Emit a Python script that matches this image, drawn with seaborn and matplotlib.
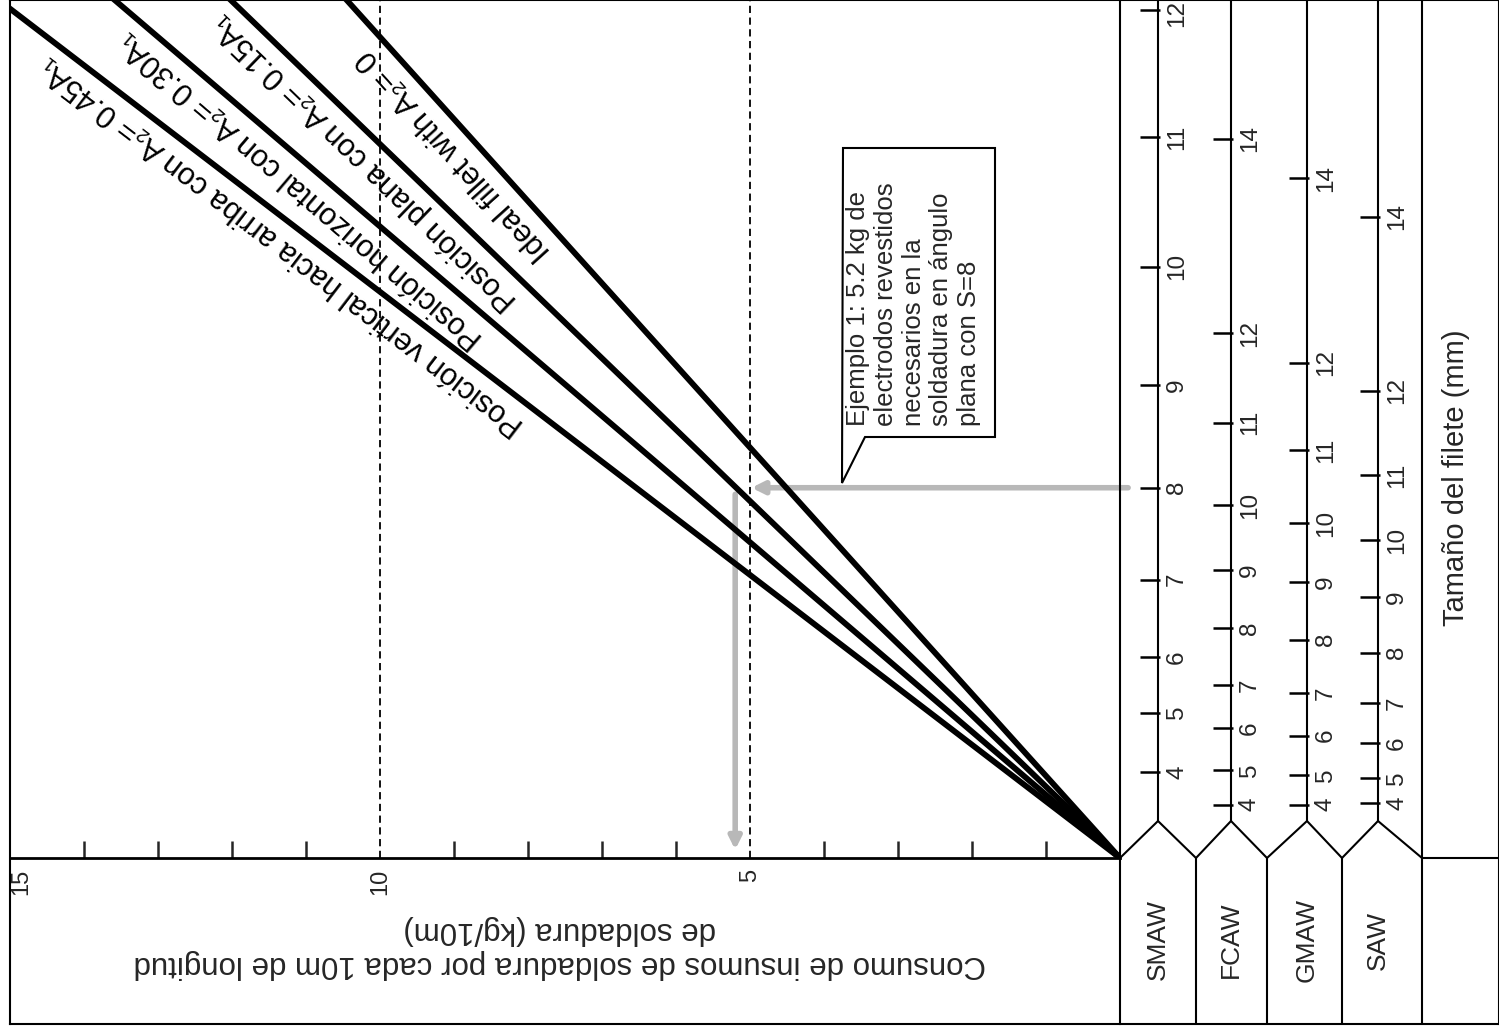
import numpy as np
import pandas as pd
import matplotlib.pyplot as plt
from matplotlib.patches import Polygon
import seaborn as sns

# lines of the nomogram: A2 = k * A1
line_factors = [0.0, 0.15, 0.30, 0.45]
line_labels = [
    "Ideal fillet with A₂= 0",
    "Posición plana con A₂= 0.15A₁",
    "Posición horizontal con A₂= 0.30A₁",
    "Posición vertical hacia arriba con A₂= 0.45A₁",
]
label_at = [8.76, 9.99, 10.86, 11.13]  # consumption where each label is centred

# bottom scale (kg/10m)
major_ticks = [15, 10, 5]
minor_ticks = [1, 2, 3, 4, 6, 7, 8, 9, 11, 12, 13, 14]
dashed_at = [10, 5]

# fillet-size scales, position = ideal consumption (kg/10m)
processes = ["SMAW", "FCAW", "GMAW", "SAW"]
smaw_sizes = [4, 5, 6, 7, 8, 9, 10, 11, 12]
smaw_pos = [1.05, 1.77, 2.45, 3.39, 4.51, 5.76, 7.20, 8.78, 10.33]
fcaw_sizes = [4, 5, 6, 7, 8, 9, 10, 11, 12, 14]
fcaw_pos = [0.65, 1.07, 1.58, 2.11, 2.80, 3.51, 4.30, 5.30, 6.39, 8.76]
gmaw_sizes = [4, 5, 6, 7, 8, 9, 10, 11, 12, 14]
gmaw_pos = [0.65, 1.01, 1.49, 2.01, 2.66, 3.36, 4.08, 4.97, 6.03, 8.28]
saw_sizes = [4, 5, 6, 7, 8, 9, 10, 11, 12, 14]
saw_pos = [0.67, 0.97, 1.40, 1.89, 2.50, 3.18, 3.87, 4.66, 5.69, 7.81]

example_size = 8
example_kg = 5.2
example_text = ("Ejemplo 1: 5.2 kg de\nelectrodos revestidos\nnecesarios en la\n"
                "soldadura en ángulo\nplana con S=8")

sns.set_theme(style="white")
plt.rcParams["font.family"] = ["Liberation Sans", "DejaVu Sans"]
plt.rcParams["axes.edgecolor"] = "black"

W, H = 1499, 1031
px_x = 74.0      # px per kg on the bottom scale
px_y = 82.1      # px per unit on the vertical scale
y_top = 858 / px_y
y_bot = -166 / px_y

fig = plt.figure(figsize=(W / 100, H / 100), dpi=100)

# outer frame
frame = fig.add_axes([10 / W, (H - 1024) / H, (W - 10) / W, 1024 / H])
frame.set_xticks([])
frame.set_yticks([])
frame.set_facecolor("none")
for s in frame.spines.values():
    s.set_linewidth(1.5)

# main chart
ax = fig.add_axes([10 / W, (H - 858) / H, 1110 / W, 858 / H])
ax.set_facecolor("none")
ax.set_xlim(15, 0)
ax.set_ylim(0, y_top)
for side in ["left", "top", "right"]:
    ax.spines[side].set_visible(False)
ax.spines["bottom"].set_linewidth(2)

ax.set_xticks(major_ticks)
ax.set_xticklabels([str(t) for t in major_ticks], rotation=90)
ax.set_xticks(minor_ticks, minor=True)
ax.tick_params(axis="x", which="major", length=0, pad=8, labelsize=17)
ax.tick_params(axis="x", which="minor", direction="in", length=12, width=1.8, bottom=True)
ax.get_xticklabels()[0].set_horizontalalignment("left")
ax.set_yticks([])

ax.set_xlabel("Consumo de insumos de soldadura por cada 10m de longitud\nde soldadura (kg/10m)",
              fontsize=22.5, rotation=180)
ax.xaxis.set_label_coords(0.4955, -0.1037)
ax.xaxis.label.set_verticalalignment("center")

for d in dashed_at:
    ax.axvline(d, color="black", lw=1.3, ls=(0, (4, 2.5)), zorder=2)

rows = []
for k, lab in zip(line_factors, line_labels):
    for c in (0, 16):
        rows.append({"linea": lab, "consumo": c, "ideal": c / (1 + k)})
df = pd.DataFrame(rows)
sns.lineplot(data=df, x="consumo", y="ideal", hue="linea", palette=["black"] * 4,
             legend=False, linewidth=4.2, estimator=None, sort=False, ax=ax, zorder=3)

for k, lab, xa in zip(line_factors, line_labels, label_at):
    p0 = ax.transData.transform((0, 0))
    p1 = ax.transData.transform((10, 10 / (1 + k)))
    ang = np.degrees(np.arctan2(p1[1] - p0[1], p1[0] - p0[0]))
    nrm = np.radians(ang + 90)
    off = 17
    ax.annotate(lab, xy=(xa, xa / (1 + k)), xytext=(off * np.cos(nrm), off * np.sin(nrm)),
                textcoords="offset points", rotation=ang, rotation_mode="anchor",
                ha="center", va="center", fontsize=22, color="black")

# example path (grey arrows)
y_ex = smaw_pos[smaw_sizes.index(example_size)]
grey = "#b8b8b8"
ax.annotate("", xy=(example_kg - 0.22, y_ex), xytext=(-0.11, y_ex),
            arrowprops=dict(arrowstyle="-|>", color=grey, lw=4, mutation_scale=18,
                            shrinkA=0, shrinkB=0),
            annotation_clip=False, zorder=1)
ax.annotate("", xy=(example_kg, 0.1), xytext=(example_kg, y_ex - 0.08),
            arrowprops=dict(arrowstyle="-|>", color=grey, lw=4, mutation_scale=18,
                            shrinkA=0, shrinkB=0),
            annotation_clip=False, zorder=1)

# callout box
def to_data(px, py):
    return ((1120 - px) / px_x, (858 - py) / px_y)

box = [to_data(843, 148), to_data(995, 148), to_data(995, 437),
       to_data(865, 437), to_data(842, 483)]
ax.add_patch(Polygon(box, closed=True, facecolor="white", edgecolor="black",
                     lw=1.5, zorder=4))
tx, ty = to_data(846, 426)
ax.text(tx, ty, example_text, rotation=90, ha="left", va="bottom",
        multialignment="left", fontsize=18.5, linespacing=1.2, zorder=5)

# fillet-size scales panel
ax2 = fig.add_axes([1120 / W, (H - 1024) / H, 379 / W, 1024 / H])
ax2.set_facecolor("none")
ax2.set_xlim(0, 379)
ax2.set_ylim(y_bot, y_top)
ax2.set_xticks([])
ax2.set_yticks([])
for side in ["bottom", "top", "right"]:
    ax2.spines[side].set_visible(False)
ax2.spines["left"].set_linewidth(1.5)

col_x = [38, 111, 187, 258]
sep_x = [0, 76, 147, 222, 302]
peak = 37 / px_y
lw_s = 1.5

zig_x = [0]
zig_y = [0]
for cx, sx in zip(col_x, sep_x[1:]):
    zig_x += [cx, sx]
    zig_y += [peak, 0]
ax2.plot(zig_x, zig_y, color="black", lw=lw_s)
ax2.vlines(sep_x[1:], y_bot, 0, color="black", lw=lw_s)
ax2.vlines(302, 0, y_top, color="black", lw=lw_s)
ax2.hlines(0, 302, 379, color="black", lw=lw_s)
ax2.vlines(col_x, peak, y_top, color="black", lw=lw_s)

scales = [(smaw_sizes, smaw_pos), (fcaw_sizes, fcaw_pos),
          (gmaw_sizes, gmaw_pos), (saw_sizes, saw_pos)]
for cx, name, (sizes, pos) in zip(col_x, processes, scales):
    ax2.hlines(pos, cx - 18, cx + 2, color="black", lw=1.8)
    for s, p in zip(sizes, pos):
        if p > y_top - 0.2:
            # keep the top label inside the frame
            ax2.text(cx + 19, y_top, str(s), rotation=90, ha="center", va="top", fontsize=17.5)
        else:
            ax2.text(cx + 19, p, str(s), rotation=90, ha="center", va="center", fontsize=17.5)
    ax2.text(cx, -82 / px_y, name, rotation=90, ha="center", va="center", fontsize=19)

ax2.text(336, (858 - 478) / px_y, "Tamaño del filete (mm)", rotation=90,
         ha="center", va="center", fontsize=21)

fig.savefig("out.png", dpi=100)
